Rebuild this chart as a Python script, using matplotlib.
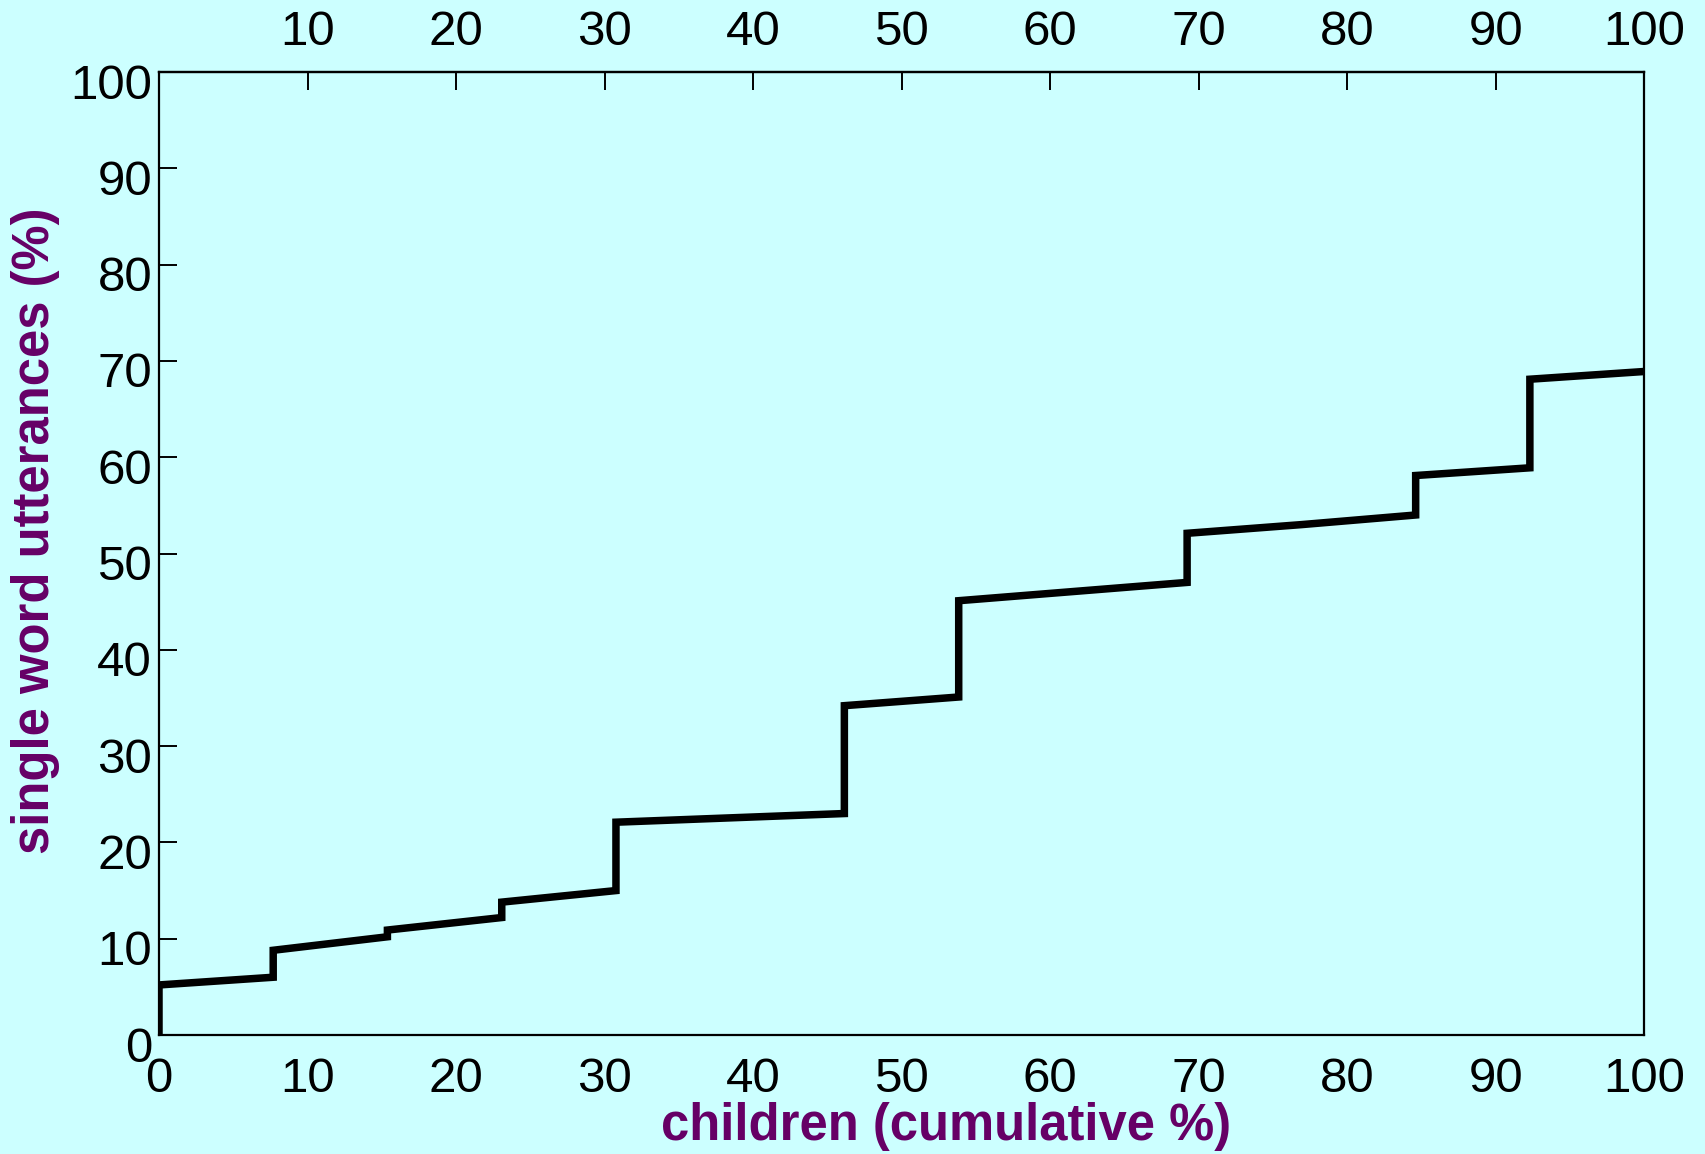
import numpy as np
import matplotlib
matplotlib.use("Agg")
import matplotlib.pyplot as plt
import matplotlib.transforms as mtransforms

# cumulative step curve (children %, single word utterances %)
children_pct = [0, 0, 7.69, 7.69, 15.38, 15.38, 23.08, 23.08, 30.77, 30.77,
                46.15, 46.15, 53.85, 53.85, 69.23, 69.23, 76.92, 84.62, 84.62,
                92.31, 92.31, 100]
single_word_pct = [0, 5.2, 6.0, 8.8, 10.2, 10.9, 12.2, 13.8, 15.0, 22.1,
                   23.0, 34.2, 35.1, 45.1, 47.0, 52.1, 53.0, 54.0, 58.1,
                   58.9, 68.1, 68.9]

x_ticks = [0, 10, 20, 30, 40, 50, 60, 70, 80, 90, 100]
top_ticks = [10, 20, 30, 40, 50, 60, 70, 80, 90, 100]
y_ticks = [0, 10, 20, 30, 40, 50, 60, 70, 80, 90, 100]

bg = "#ccffff"
purple = "#660066"
plt.rcParams["font.family"] = ["Liberation Sans", "DejaVu Sans"]

fig = plt.figure(figsize=(17.06, 11.54), dpi=100, facecolor=bg)
ax = fig.add_axes([0.0932, 0.1031, 0.8705, 0.8345], facecolor=bg)

ax.plot(children_pct, single_word_pct, color="black", lw=5.4,
        solid_joinstyle="miter", solid_capstyle="round")

ax.set_xlim(0, 100)
ax.set_ylim(0, 100)
for s in ax.spines.values():
    s.set_linewidth(1.6)

ax.set_xticks(x_ticks)
ax.set_yticks(y_ticks)
ax.tick_params(axis="x", bottom=True, length=0, labelsize=35.5, pad=16)
ax.tick_params(axis="y", direction="in", length=13, width=1.4, labelsize=35.5, pad=5)

top = ax.secondary_xaxis("top")
top.set_xticks(top_ticks)
top.tick_params(direction="in", length=13, width=1.4, labelsize=35.5, pad=12)
top.spines["top"].set_linewidth(1.6)

# y tick labels sit a little below their ticks in the original
off = mtransforms.ScaledTranslation(0, -9 / 100, fig.dpi_scale_trans)
for lab in ax.get_yticklabels():
    lab.set_transform(lab.get_transform() + off)

ax.set_xlabel("children (cumulative %)", color=purple, fontsize=36.5,
              fontweight="bold", va="center")
ax.xaxis.set_label_coords(0.53, -0.095)
ax.set_ylabel("single word utterances (%)", color=purple, fontsize=36.5,
              fontweight="bold", va="center")
ax.yaxis.set_label_coords(-0.083, 0.524)

fig.savefig("out.png", dpi=100, facecolor=bg)
